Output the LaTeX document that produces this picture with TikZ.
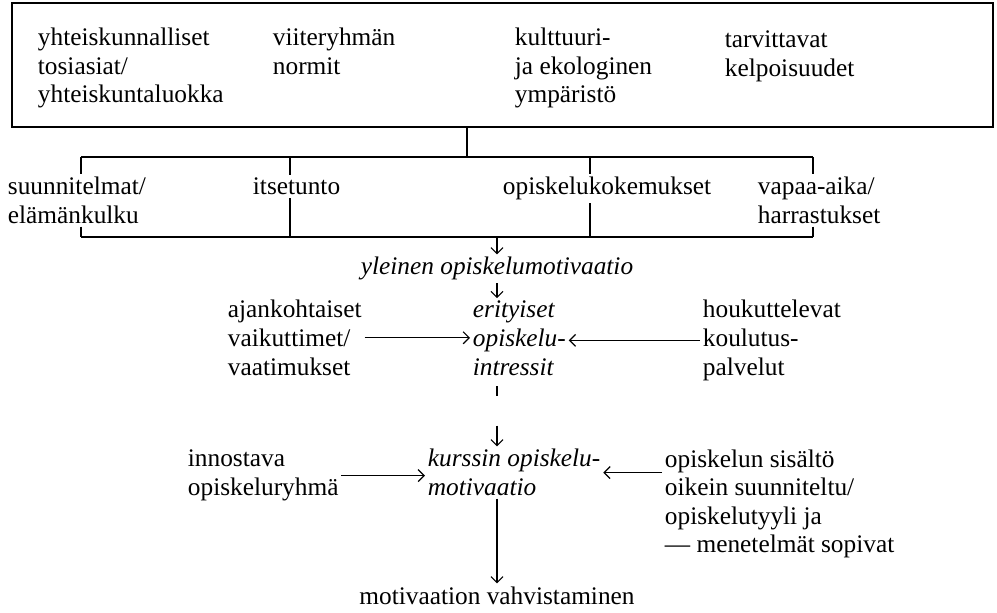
\documentclass[tikz,border=0pt]{standalone}
\usepackage{fontspec}
\setmainfont{Liberation Serif}
\usetikzlibrary{arrows.meta,positioning}

\begin{document}
\begin{tikzpicture}[x=0.75pt, y=-0.75pt,
		item/.style={inner sep=2pt, align=left, anchor=base west, font=\fontsize{19}{21.4}\selectfont},
		focus/.style={item, font=\fontsize{19}{21.4}\selectfont\itshape},
		frame/.style={draw, line width=1.2pt, minimum width=735.75pt, minimum height=93pt},
		bar/.style={draw, line width=1.1pt},
		line/.style={draw, -{Straight Barb[length=4.5pt, width=9pt]}, line width=0.9pt}]
		\useasboundingbox (0,0) rectangle (997,613);

		% Nodes (placed at the baseline of their last line)
		\node [frame] (factors) at (502.5,65) {};
		\node [item] (facts) at (35,103) {yhteiskunnalliset\\tosiasiat/\\yhteiskuntaluokka};
		\node [item] (norms) at (270,74.5) {viiteryhmän\\normit};
		\node [item] (culture) at (512,103) {kulttuuri-\\ja ekologinen\\ympäristö};
		\node [item] (skills) at (722,76.5) {tarvittavat\\kelpoisuudet};

		\node [item] (plans) at (5,223.5) {suunnitelmat/\\elämänkulku};
		\node [item] (esteem) at (250,195) {itsetunto};
		\node [item] (exper) at (500,195) {opiskelukokemukset};
		\node [item] (leisure) at (755,223.5) {vapaa-aika/\\harrastukset};

		\node [focus, anchor=base] (general) at (497,275) {yleinen opiskelumotivaatio};
		\node [focus] (specific) at (470,375) {erityiset\\opiskelu-\\intressit};
		\node [item] (current) at (225,375) {ajankohtaiset\\vaikuttimet/\\vaatimukset};
		\node [item] (services) at (700,375) {houkuttelevat\\koulutus-\\palvelut};

		\node [focus] (course) at (425,495.5) {kurssin opiskelu-\\motivaatio};
		\node [item] (group) at (185,495.5) {innostava\\opiskeluryhmä};
		\node [item] (content) at (662,552.6) {opiskelun sisältö\\oikein suunniteltu/\\opiskelutyyli ja\\--- menetelmät sopivat};
		\node [item, anchor=base] (result) at (497,604) {motivaation vahvistaminen};

		% Bracket
		\coordinate (top) at (467,157);
		\coordinate (b1) at (81,157);
		\coordinate (b2) at (290,157);
		\coordinate (b3) at (590,157);
		\coordinate (b4) at (813,157);
		\coordinate (c1) at (81,237);
		\coordinate (c2) at (290,237);
		\coordinate (c3) at (590,237);
		\coordinate (c4) at (813,237);
		\coordinate (spine) at (497,237);

		\path [bar] (top |- factors.south) -- (top);
		\path [bar] (b1) -- (b4);
		\path [bar] (c1) -- (c4);
		\path [bar] (b1) -- (b1 |- plans.north);
		\path [bar] (c1 |- plans.south) -- (c1);
		\path [bar] (b2) -- (b2 |- esteem.north);
		\path [bar] (c2 |- esteem.south) -- (c2);
		\path [bar] (b3) -- (b3 |- exper.north);
		\path [bar] (c3 |- exper.south) -- (c3);
		\path [bar] (b4) -- (b4 |- leisure.north);
		\path [bar] (c4 |- leisure.south) -- (c4);

		% Paths
		\path [line] (spine) -- (spine |- general.north);
		\path [line] (spine |- general.south) -- (spine |- specific.north);
		\path [line] (current.east) -- (specific.west |- current.east);
		\path [line] (services.west) -- (specific.east |- services.west);
		\path [line, dash pattern=on 0pt off 6pt on 7.5pt off 22pt on 40pt] (spine |- specific.south) -- (spine |- course.north);
		\path [line] (group.east) -- (course.west |- group.east);
		\path [line] (content.west |- course.east) -- (course.east);
		\path [line] (spine |- course.south) -- (spine |- result.north);
	\end{tikzpicture}
\end{document}
